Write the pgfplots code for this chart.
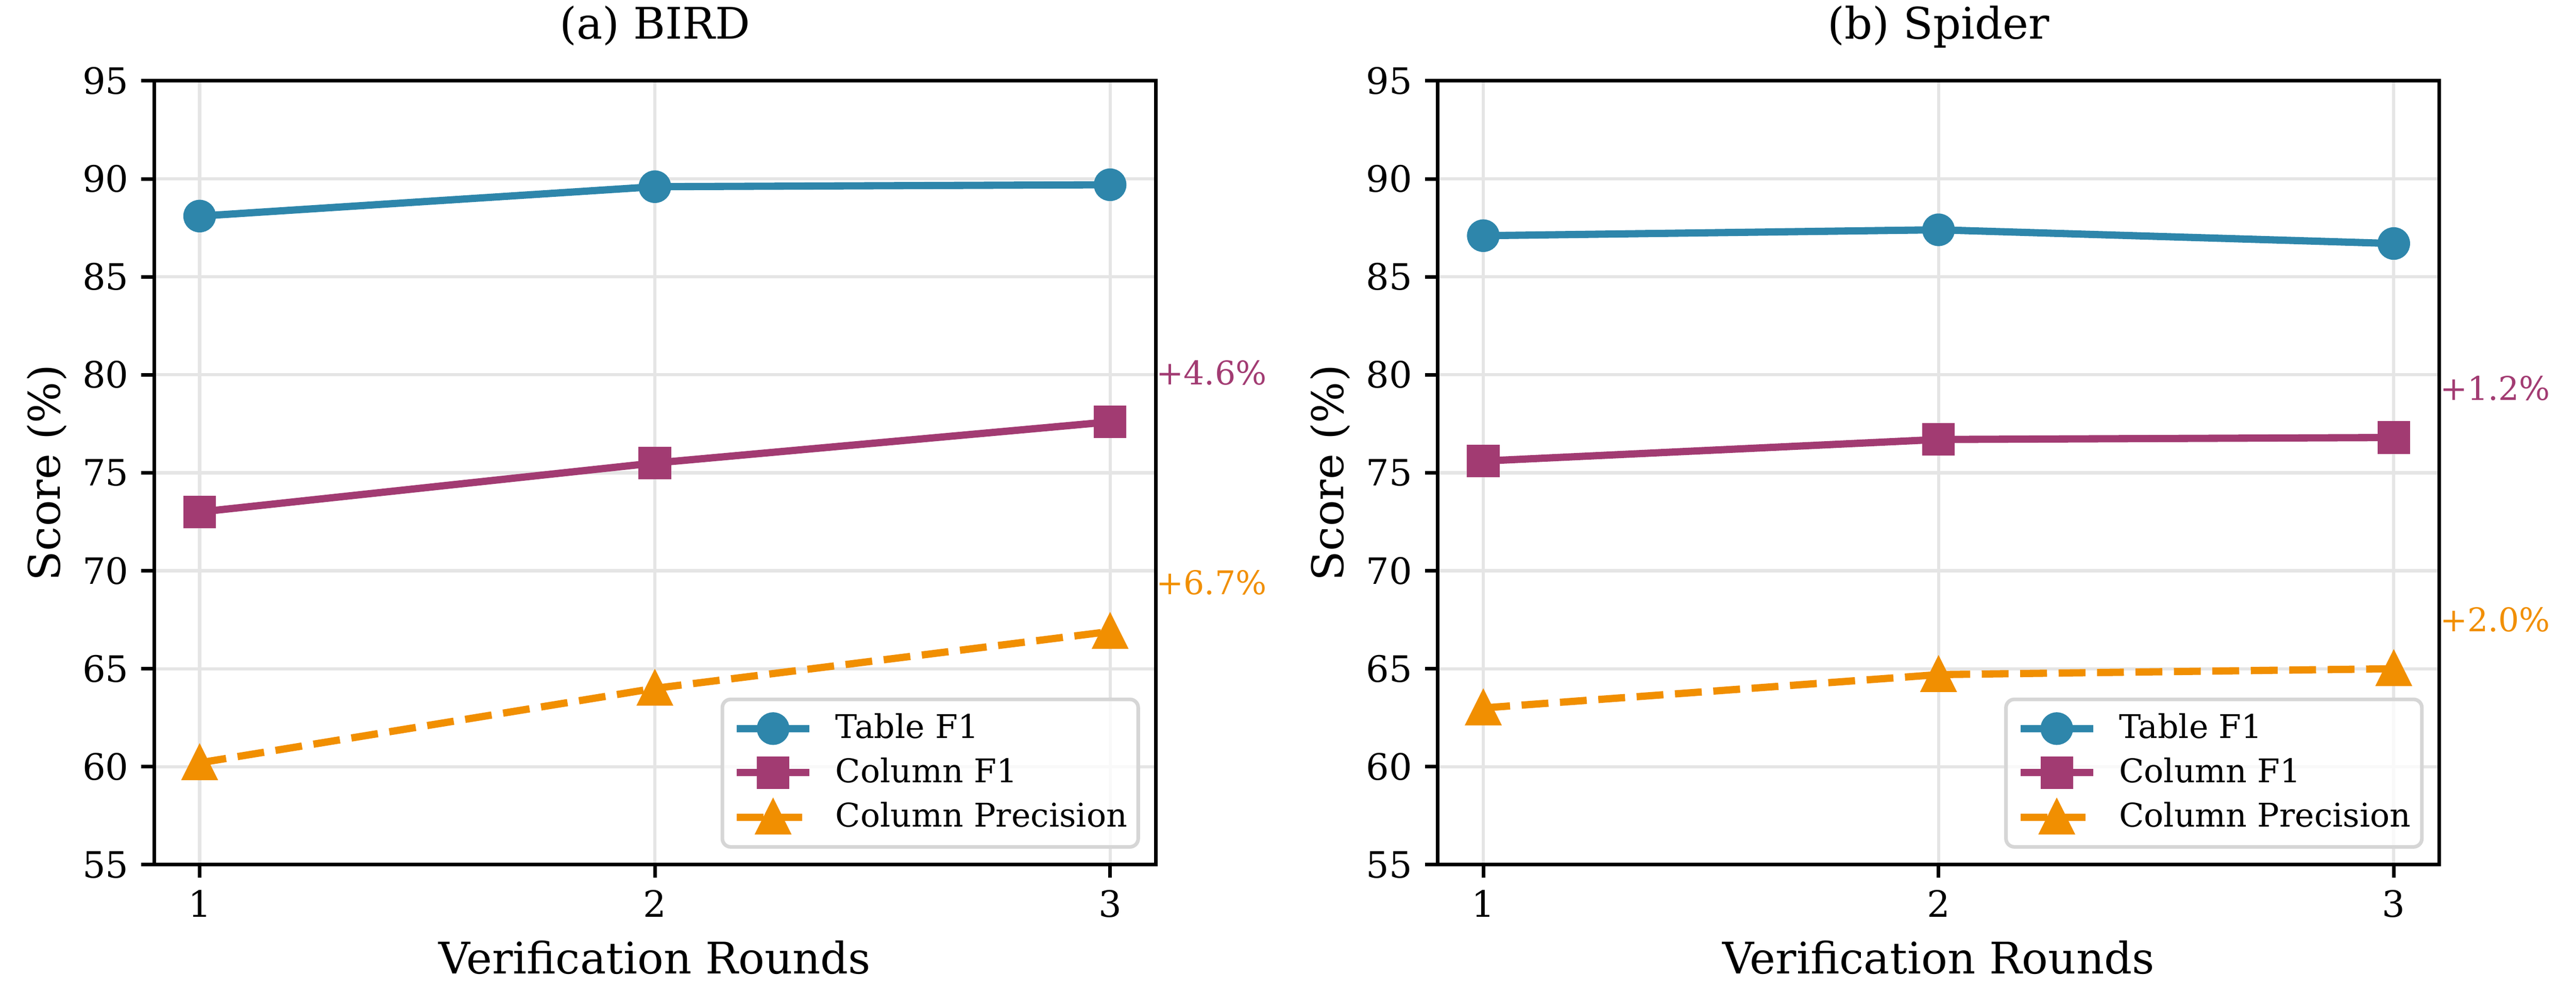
\documentclass[border=0pt]{standalone}
\usepackage{fontspec}
\setmainfont{DejaVu Serif}
\usepackage{pgfplots}
\pgfplotsset{compat=1.18}

\definecolor{tabblue}{HTML}{2E86AB}
\definecolor{colpurple}{HTML}{A23B72}
\definecolor{precorange}{HTML}{F18F01}

% matplotlib-like triangle: as wide as it is tall
\pgfdeclareplotmark{tri}{%
  \pgfpathmoveto{\pgfqpoint{0pt}{\pgfplotmarksize}}%
  \pgfpathlineto{\pgfqpoint{-\pgfplotmarksize}{-\pgfplotmarksize}}%
  \pgfpathlineto{\pgfqpoint{\pgfplotmarksize}{-\pgfplotmarksize}}%
  \pgfpathclose
  \pgfusepathqfillstroke}

\tikzset{gain/.style={anchor=west, inner sep=0pt, font=\fontsize{9}{11}\selectfont}}

\pgfplotsset{
  roundsplot/.style={
    scale only axis, width=276.2pt, height=216.1pt,
    xmin=0.9, xmax=3.1, ymin=55, ymax=95,
    xtick={1,2,3}, ytick={55,60,...,95},
    tick align=outside, tick pos=left, major tick length=3.5pt,
    tick style={line width=1pt, black},
    axis line style={line width=1pt},
    grid=major, major grid style={line width=0.9pt, black!10},
    /pgf/number format/assume math mode=true,
    ticklabel style={font=\fontsize{10}{12}\selectfont},
    label style={font=\fontsize{12}{14}\selectfont},
    title style={font=\fontsize{12}{14}\selectfont, at={(axis description cs:0.5,1.0259)}, anchor=base},
    xlabel style={at={(axis description cs:0.5,-0.1393)}, anchor=base},
    ylabel style={at={(axis description cs:-0.0941,0.5)}, anchor=base},
    xlabel={Verification Rounds}, ylabel={Score (\%)},
    clip=false,
    legend cell align=left,
    legend style={at={(axis description cs:0.9844,0.0204)}, anchor=south east,
      draw=black!16, line width=1pt, rounded corners=2.3pt,
      fill=white, fill opacity=0.8, text opacity=1,
      font=\fontsize{9}{11}\selectfont,
      inner xsep=3pt, inner ysep=3.9pt, row sep=3.8pt,
      nodes={inner sep=0pt},
      /tikz/every odd column/.append style={column sep=6.2pt}},
    legend image code/.code={
      \draw[fill opacity=1, draw opacity=1, sharp corners, mark repeat=2, mark phase=2, #1]
        plot coordinates {(0pt,0pt) (10pt,0pt) (20pt,0pt)};
    },
    tabline/.style={tabblue, line width=2pt, mark=*, mark size=4pt, mark options={solid, line width=1pt}},
    colline/.style={colpurple, line width=2pt, mark=square*, mark size=4pt, mark options={solid, line width=1pt}},
    precline/.style={precorange, line width=2pt, dash pattern=on 7.4pt off 3.2pt, mark=tri, mark size=4.3pt, mark options={solid, line width=1pt}},
  }
}

\begin{document}
\begin{tikzpicture}
\useasboundingbox (-42.5pt,-39.5pt) rectangle (667.9pt,238.4pt);

\begin{axis}[roundsplot, title={(a) BIRD}]
  \addplot[tabline] coordinates {(1,88.1) (2,89.6) (3,89.7)};
  \addplot[colline] coordinates {(1,73.0) (2,75.5) (3,77.6)};
  \addplot[precline] coordinates {(1,60.2) (2,64.0) (3,66.9)};
  \legend{Table F1, Column F1, Column Precision}
  \node[gain, text=colpurple] at (axis cs:3.1,80.1) {+4.6\%};
  \node[gain, text=precorange] at (axis cs:3.1,69.4) {+6.7\%};
\end{axis}

\begin{axis}[roundsplot, at={(354pt,0pt)}, title={(b) Spider}]
  \addplot[tabline] coordinates {(1,87.1) (2,87.4) (3,86.7)};
  \addplot[colline] coordinates {(1,75.6) (2,76.7) (3,76.8)};
  \addplot[precline] coordinates {(1,63.0) (2,64.7) (3,65.0)};
  \legend{Table F1, Column F1, Column Precision}
  \node[gain, text=colpurple] at (axis cs:3.1,79.3) {+1.2\%};
  \node[gain, text=precorange] at (axis cs:3.1,67.5) {+2.0\%};
\end{axis}
\end{tikzpicture}
\end{document}
